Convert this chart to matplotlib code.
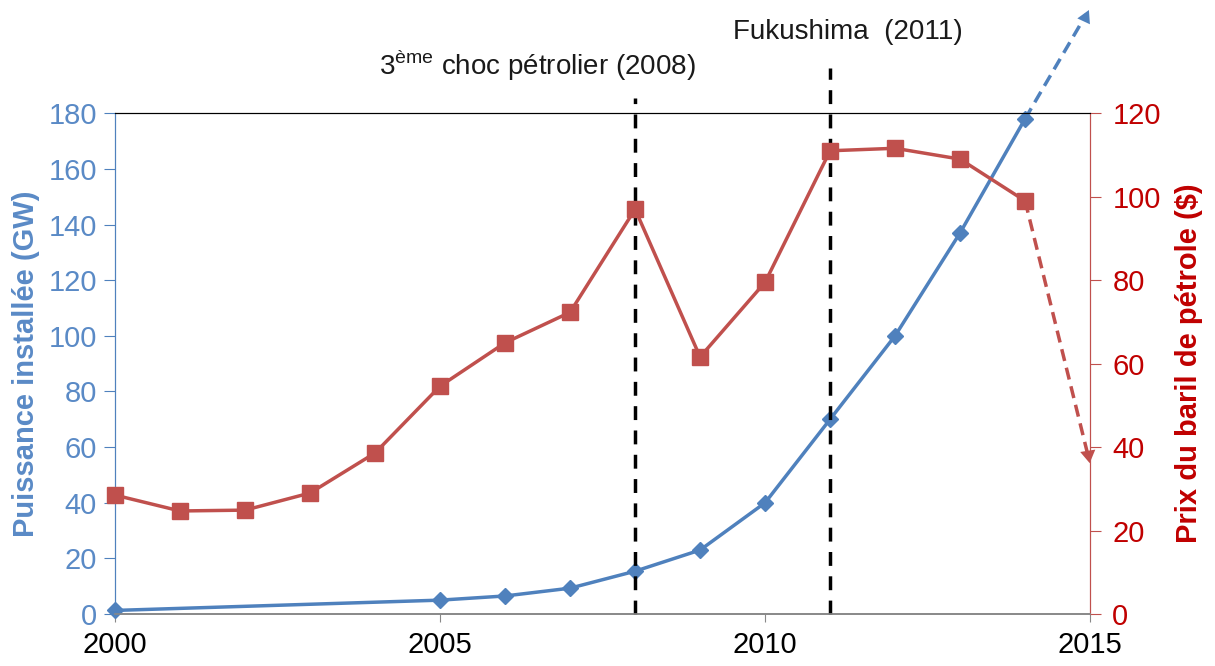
import matplotlib.pyplot as plt

# installed PV capacity (GW) - no points for 2001-2004
gw_years = [2000, 2005, 2006, 2007, 2008, 2009, 2010, 2011, 2012, 2013, 2014]
gw_values = [1.3, 5, 6.5, 9.3, 15.4, 23, 40, 70, 100, 137, 178]

# oil barrel price ($)
oil_years = list(range(2000, 2015))
oil_values = [28.5, 24.7, 24.9, 29, 38.6, 54.6, 65, 72.3, 97, 61.6, 79.5, 111, 111.6, 109, 99]

# trend arrows (end points)
gw_arrow_end = (2015, 218)
oil_arrow_end = (2015, 35.5)

events = [2008, 2011]
event_labels = ["3$^{\\rm ème}$ choc pétrolier (2008)", "Fukushima  (2011)"]

blue = "#4F81BD"
blue_txt = "#5A8AC6"
red = "#C0504D"
red_txt = "#C00000"

plt.rcParams['font.family'] = ['Liberation Sans', 'DejaVu Sans']
plt.rcParams['mathtext.fontset'] = 'custom'
plt.rcParams['mathtext.rm'] = 'Liberation Sans'

fig = plt.figure(figsize=(12.15, 6.66), dpi=100)
ax = fig.add_axes([0.0947, 0.078, 0.8025, 0.752])
ax2 = ax.twinx()

ax.set_xlim(2000, 2015)
ax.set_ylim(0, 180)
ax2.set_ylim(0, 120)

# blue series on left axis
ax.plot(gw_years, gw_values, color=blue, lw=2.5, marker='D', ms=8, zorder=5, clip_on=False)
ax.plot([gw_years[-1], gw_arrow_end[0] - 0.06], [gw_values[-1], gw_arrow_end[1] - 2.5],
        color=blue, lw=2.5, ls=(0, (3.5, 2)), clip_on=False)
ax.annotate("", xy=gw_arrow_end, xytext=(gw_arrow_end[0] - 0.08, gw_arrow_end[1] - 4),
            arrowprops=dict(arrowstyle='-|>,head_length=0.9,head_width=0.5', color=blue, lw=0),
            annotation_clip=False)

# red series on right axis
ax2.plot(oil_years, oil_values, color=red, lw=2.5, marker='s', ms=11, zorder=5, clip_on=False)
ax2.plot([oil_years[-1], oil_arrow_end[0] - 0.04], [oil_values[-1], oil_arrow_end[1] + 3],
         color=red, lw=2.5, ls=(0, (3.5, 2)), clip_on=False)
ax2.annotate("", xy=oil_arrow_end, xytext=(oil_arrow_end[0] - 0.05, oil_arrow_end[1] + 5),
             arrowprops=dict(arrowstyle='-|>,head_length=0.9,head_width=0.55', color=red, lw=0),
             annotation_clip=False)

# event lines
tops = [1.03, 1.09]
label_pos = [(2006.5, 191), (2011.28, 204.5)]
for x, lab, top, (tx, ty) in zip(events, event_labels, tops, label_pos):
    ax.plot([x, x], [0, 180 * top], color='black', lw=2.5, ls=(0, (4, 3)), clip_on=False, zorder=6)
    ax.text(tx, ty, lab, ha='center', va='bottom', fontsize=20, color='#1a1a1a')

ax.set_xticks([2000, 2005, 2010, 2015])
ax.set_yticks(range(0, 181, 20))
ax2.set_yticks(range(0, 121, 20))

ax.tick_params(axis='x', labelsize=21, length=6, color='#888888', pad=6)
ax.tick_params(axis='y', labelsize=21, colors=blue_txt, length=8, color=blue, pad=5)
ax2.tick_params(axis='y', labelsize=21, colors=red_txt, length=8, color=red, pad=8)

for a in (ax, ax2):
    a.spines['top'].set_color('black')
    a.spines['bottom'].set_color('#888888')
    a.spines['left'].set_color(blue)
    a.spines['right'].set_color(red)
    a.spines['bottom'].set_linewidth(1.2)

ax.set_ylabel("Puissance installée (GW)", color=blue_txt, fontsize=21, fontweight='bold', labelpad=6)
ax2.set_ylabel("Prix du baril de pétrole ($)", color=red_txt, fontsize=21, fontweight='bold', labelpad=10)

fig.savefig("out.png", dpi=100)
